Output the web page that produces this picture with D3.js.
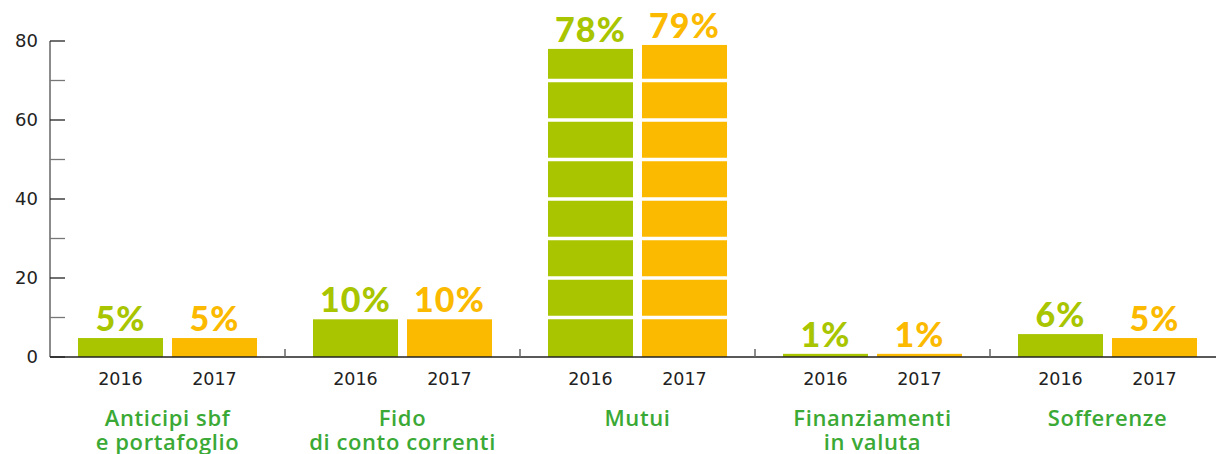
<!DOCTYPE html>
<html>
<head>
<meta charset="utf-8">
<script src="https://cdn.jsdelivr.net/npm/d3@7"></script>
<style>
  html, body { margin: 0; padding: 0; background: #fff; }
  svg { display: block; }
</style>
</head>
<body>
<svg id="chart" width="1216" height="454"></svg>
<script>
// ---- data ----
const categories = ["Anticipi sbf\ne portafoglio", "Fido\ndi conto correnti", "Mutui", "Finanziamenti\nin valuta", "Sofferenze"];
const years = ["2016", "2017"];
const values2016 = [4.8, 9.6, 78, 0.8, 5.8];
const values2017 = [4.8, 9.6, 79, 0.8, 4.8];
const yTickValues = [0, 20, 40, 60, 80];
const yMinorTickValues = [10, 30, 50, 70];
const gridValues = [10, 20, 30, 40, 50, 60, 70];

const colors = { "2016": "#A8C500", "2017": "#FBBA00" };

const svg = d3.select("#chart");
const x0 = d3.scaleBand().domain(categories).range([50, 1225]).paddingInner(0).paddingOuter(0);
const x1 = d3.scaleBand().domain(years).range([0, x0.bandwidth()]).paddingInner(9/94).paddingOuter(28/94);
const y = d3.scaleLinear().domain([0, 80]).range([357, 41]);

const rows = [];
categories.forEach((c, i) => {
  rows.push({ cat: c, year: "2016", v: values2016[i] });
  rows.push({ cat: c, year: "2017", v: values2017[i] });
});

// bars
svg.append("g").selectAll("rect").data(rows).join("rect")
  .attr("x", d => x0(d.cat) + x1(d.year))
  .attr("y", d => y(d.v))
  .attr("width", x1.bandwidth())
  .attr("height", d => y(0) - y(d.v))
  .attr("fill", d => colors[d.year]);

// white grid lines across bars
svg.append("g").selectAll("line").data(gridValues).join("line")
  .attr("x1", x0.range()[0] + 18).attr("x2", 1216)
  .attr("y1", d => y(d)).attr("y2", d => y(d))
  .attr("stroke", "#fff").attr("stroke-width", 3.5);

// value labels
svg.append("g").selectAll("text").data(rows).join("text")
  .attr("x", d => x0(d.cat) + x1(d.year) + x1.bandwidth() / 2)
  .attr("y", d => y(d.v) - 7)
  .attr("text-anchor", "middle")
  .attr("font-family", "Lato, sans-serif")
  .attr("font-weight", 900)
  .attr("font-size", 34)
  .attr("letter-spacing", 1.2)
  .attr("fill", d => colors[d.year])
  .text(d => Math.round(d.v) + "%");

// y axis
const yAxis = svg.append("g");
yAxis.append("line")
  .attr("x1", 50).attr("x2", 50).attr("y1", y(80)).attr("y2", y(0))
  .attr("stroke", "#666").attr("stroke-width", 1.5);
yAxis.selectAll("line.minor").data(yMinorTickValues).join("line").attr("class", "minor")
  .attr("x1", 50).attr("x2", 65).attr("y1", d => y(d)).attr("y2", d => y(d))
  .attr("stroke", "#777").attr("stroke-width", 1.3);
yAxis.selectAll("line.major").data(yTickValues).join("line").attr("class", "major")
  .attr("x1", 50).attr("x2", 65).attr("y1", d => y(d)).attr("y2", d => y(d))
  .attr("stroke", "#222").attr("stroke-width", 1.3);
yAxis.selectAll("text").data(yTickValues).join("text")
  .attr("x", 38).attr("y", d => y(d))
  .attr("dy", "0.36em")
  .attr("text-anchor", "end")
  .attr("font-family", "'DejaVu Sans', sans-serif")
  .attr("font-size", 18)
  .attr("fill", "#222")
  .text(d => d);

// baseline
svg.append("line")
  .attr("x1", 50).attr("x2", 1216).attr("y1", y(0)).attr("y2", y(0))
  .attr("stroke", "#222").attr("stroke-width", 1.6);

// group separators
svg.append("g").selectAll("line").data(categories.slice(1)).join("line")
  .attr("x1", d => x0(d)).attr("x2", d => x0(d))
  .attr("y1", y(0) - 8).attr("y2", y(0))
  .attr("stroke", "#666").attr("stroke-width", 1.5);

// year labels
svg.append("g").selectAll("text").data(rows).join("text")
  .attr("x", d => x0(d.cat) + x1(d.year) + x1.bandwidth() / 2)
  .attr("y", 385)
  .attr("text-anchor", "middle")
  .attr("font-family", "'DejaVu Sans', sans-serif")
  .attr("font-size", 17.5)
  .attr("fill", "#222")
  .text(d => d.year);

// category labels
const catG = svg.append("g").selectAll("text").data(categories).join("text")
  .attr("x", d => x0(d) + x0.bandwidth() / 2)
  .attr("y", 426)
  .attr("text-anchor", "middle")
  .attr("font-family", "'Open Sans', sans-serif")
  .attr("font-weight", 600)
  .attr("font-size", 22)
  .attr("letter-spacing", 0.6)
  .attr("fill", "#3BA935");
catG.each(function(d) {
  const lines = d.split("\n");
  d3.select(this).selectAll("tspan").data(lines).join("tspan")
    .attr("x", x0(d) + x0.bandwidth() / 2)
    .attr("dy", (l, i) => i === 0 ? 0 : 24)
    .text(l => l);
});
</script>
</body>
</html>
